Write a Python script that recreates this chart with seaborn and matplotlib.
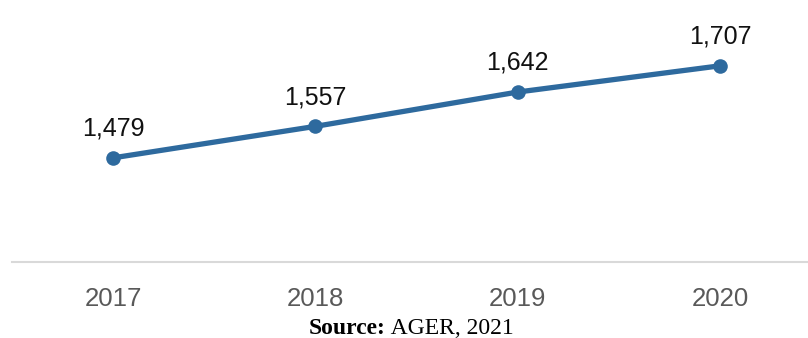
import matplotlib
matplotlib.use("Agg")
import matplotlib.pyplot as plt
import seaborn as sns
import pandas as pd

# values
years = ["2017", "2018", "2019", "2020"]
values = [1479, 1557, 1642, 1707]
value_labels = ["1,479", "1,557", "1,642", "1,707"]

df = pd.DataFrame({"Year": years, "Value": values})

sns.set_theme(style="white")
plt.rcParams["font.family"] = ["Liberation Sans", "DejaVu Sans"]

line_color = "#2e6a9e"

fig = plt.figure(figsize=(8.08, 3.38), dpi=100)
ax = fig.add_axes([12 / 808, 1 - 262 / 338, 796 / 808, 262 / 338])

sns.lineplot(data=df, x="Year", y="Value", ax=ax, color=line_color,
             linewidth=3.8, marker="o", markersize=10.5,
             markeredgewidth=0, sort=False)

# value labels above each point
for i, (v, lab) in enumerate(zip(values, value_labels)):
    ax.annotate(lab, (i, v), xytext=(0, 21), textcoords="offset points",
                ha="center", va="center", fontsize=18, color="#111111")

ax.set_xlim(-0.5, 3.435)
ax.set_ylim(1221, 1870)
ax.set_xlabel("")
ax.set_ylabel("")
ax.set_yticks([])

for s in ["top", "right", "left"]:
    ax.spines[s].set_visible(False)
ax.spines["bottom"].set_color("#d9d9d9")
ax.spines["bottom"].set_linewidth(1.5)

ax.tick_params(axis="x", length=0, pad=18, labelsize=18.5, labelcolor="#595959")

# source note
src_x = 0.5 - 18 / 808
src_y = 1 - 329 / 338
fig.text(src_x, src_y, "Source:", ha="right", va="center",
         fontsize=17, fontweight="bold", family="Liberation Serif",
         color="black")
fig.text(src_x, src_y, " AGER, 2021", ha="left", va="center",
         fontsize=17, family="Liberation Serif", color="black")

fig.savefig("out.png", dpi=100)
